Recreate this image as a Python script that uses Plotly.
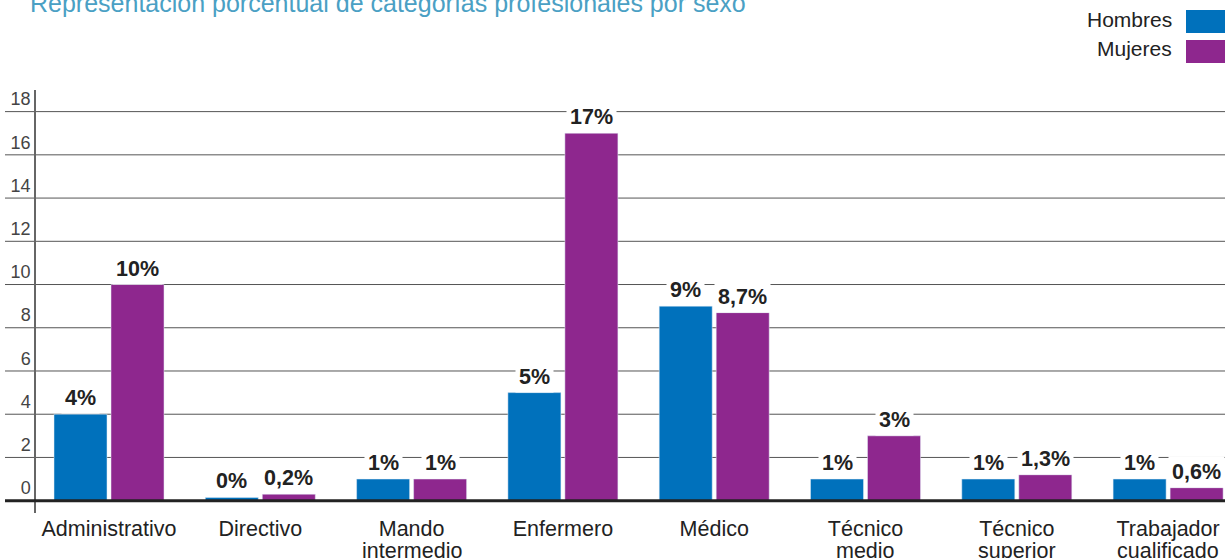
import plotly.graph_objects as go

CATEGORIES = [
    "Administrativo",
    "Directivo",
    "Mando<br>intermedio",
    "Enfermero",
    "Médico",
    "Técnico<br>medio",
    "Técnico<br>superior",
    "Trabajador<br>cualificado",
]
HOMBRES = [4.0, 0.15, 1.0, 5.0, 9.0, 1.0, 1.0, 1.0]
MUJERES = [10.0, 0.3, 1.0, 17.0, 8.7, 3.0, 1.2, 0.6]
HOMBRES_LABELS = ["4%", "0%", "1%", "5%", "9%", "1%", "1%", "1%"]
MUJERES_LABELS = ["10%", "0,2%", "1%", "17%", "8,7%", "3%", "1,3%", "0,6%"]
Y_TICKS = [0, 2, 4, 6, 8, 10, 12, 14, 16, 18]

BLUE = "#0071bc"
PURPLE = "#8e278e"
TITLE_COLOR = "#4aa0c4"
FONT = "Liberation Sans, Arial, sans-serif"

W, H = 1225, 558
M_L, M_R, M_T, M_B = 36, 0, 90, 45
BARGAP = 0.2465


def px_x(p):
    return (p - M_L) / (W - M_L - M_R)


def px_y(p):
    return (H - M_B - p) / (H - M_T - M_B)


fig = go.Figure()
fig.add_trace(go.Bar(x=CATEGORIES, y=HOMBRES, name="Hombres", marker_color=BLUE,
                     showlegend=False, hoverinfo="y"))
fig.add_trace(go.Bar(x=CATEGORIES, y=MUJERES, name="Mujeres", marker_color=PURPLE,
                     showlegend=False, hoverinfo="y"))

# value labels with white boxes that cut the gridlines
off = (1 - BARGAP) / 4
annotations = []
for i in range(len(CATEGORIES)):
    for val, lab, sign in ((HOMBRES[i], HOMBRES_LABELS[i], -1), (MUJERES[i], MUJERES_LABELS[i], 1)):
        annotations.append(dict(
            x=i + sign * off, y=val, xref="x", yref="y", text=f"<b>{lab}</b>",
            showarrow=False, yanchor="bottom", yshift=0, bgcolor="white", borderpad=3,
            font=dict(family=FONT, size=21.5, color="#222"),
        ))

# category labels: first line as tick text, second line set tighter underneath
first_lines = [c.split("<br>")[0] for c in CATEGORIES]
for i, c in enumerate(CATEGORIES):
    if "<br>" in c:
        annotations.append(dict(
            x=i, y=0, xref="x", yref="y", text=c.split("<br>")[1], showarrow=False,
            yanchor="top", yshift=-36, font=dict(family=FONT, size=21.5, color="#222"),
        ))

# title (cut at the top edge) and a right-hand legend
annotations.append(dict(
    x=px_x(28), y=px_y(19), xref="paper", yref="paper", xanchor="left", yanchor="bottom",
    text="Representación porcentual de categorías profesionales por sexo", showarrow=False,
    font=dict(family=FONT, size=25, color=TITLE_COLOR),
))
shapes = []
for name, color, top in (("Hombres", BLUE, 10), ("Mujeres", PURPLE, 40)):
    shapes.append(dict(type="rect", xref="paper", yref="paper", x0=px_x(1186), x1=1.0,
                       y0=px_y(top + 23), y1=px_y(top), fillcolor=color, line_width=0))
    annotations.append(dict(
        x=px_x(1174), y=px_y(top + 9), xref="paper", yref="paper", xanchor="right",
        yanchor="middle", text=name, showarrow=False,
        font=dict(family=FONT, size=21, color="#222"),
    ))

# gridlines running past the axis to the left
for t in Y_TICKS[1:]:
    shapes.append(dict(type="line", xref="paper", yref="y", x0=px_x(5), x1=1.0, y0=t, y1=t,
                       line=dict(color="#555", width=1), layer="below"))
shapes.append(dict(type="line", xref="paper", yref="y", x0=px_x(5), x1=1.0, y0=0, y1=0,
                   line=dict(color="#222", width=3), layer="above"))

fig.update_layout(
    width=W, height=H,
    margin=dict(l=M_L, r=M_R, t=M_T, b=M_B, autoexpand=False),
    plot_bgcolor="white", paper_bgcolor="white",
    barmode="group", bargap=BARGAP, bargroupgap=0.07,
    annotations=annotations, shapes=shapes,
    font=dict(family=FONT, color="#333"),
    showlegend=False,
)
fig.update_xaxes(range=[-0.4825, 7.376], showgrid=False, showline=False, zeroline=False,
                 automargin=False, ticks="", tickvals=CATEGORIES, ticktext=first_lines,
                 tickfont=dict(family=FONT, size=21.5, color="#222"))
fig.update_yaxes(range=[-0.57, 19.0], tickvals=Y_TICKS, showgrid=False, zeroline=False,
                 automargin=False, showline=True, linecolor="#666", linewidth=1.5,
                 ticklabelposition="outside top",
                 tickfont=dict(family=FONT, size=18, color="#444"))

fig.write_html("out.html", config={"displayModeBar": False},
               post_script="document.body.style.margin='0';")
